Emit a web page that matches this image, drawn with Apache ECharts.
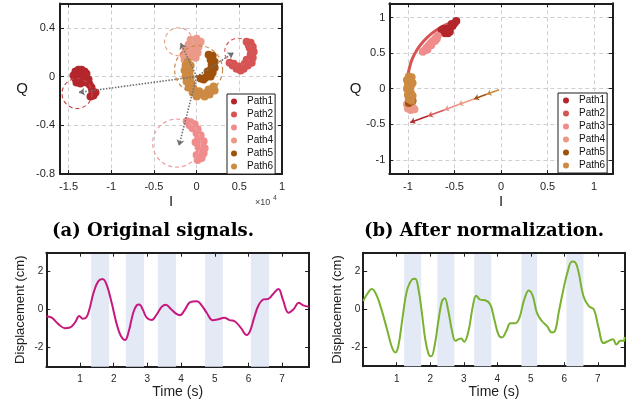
<!DOCTYPE html>
<html><head><meta charset="utf-8">
<script src="https://cdn.jsdelivr.net/npm/echarts@6/dist/echarts.min.js"></script>
<style>html,body{margin:0;padding:0;background:#fff}#c{width:641px;height:409px}</style>
</head><body><div id="c"></div>
<script>
const pathNames = ['Path1','Path2','Path3','Path4','Path5','Path6'];
const pathColors = ['#b3262b','#d65454','#f08c8c','#eb9a88','#a0520c','#cd8a42'];
const circleColors = ['#c84444','#d85c5c','#f0a0a0','#eaa290','#c98a4a'];

// (a) Original signals: I (x10^4), Q
const origPath1 = [[-1.442,0.008],[-1.419,0.041],[-1.383,0.057],[-1.348,0.057],[-1.313,0.041],[-1.290,0.024],[-1.419,-0.016],[-1.383,0.008],[-1.336,0.016],[-1.301,-0.008],[-1.266,-0.024],[-1.383,-0.024],[-1.336,-0.024],[-1.290,-0.049],[-1.254,-0.065],[-1.231,-0.090],[-1.219,-0.122],[-1.208,-0.155],[-1.184,-0.131],[-1.243,-0.163],[-1.360,-0.057],[-1.407,-0.049],[-1.360,0.030],[-1.300,0.010]];
const origPath2 = [[0.586,0.286],[0.633,0.278],[0.657,0.245],[0.621,0.237],[0.668,0.204],[0.633,0.180],[0.657,0.155],[0.621,0.122],[0.645,0.114],[0.598,0.090],[0.551,0.065],[0.516,0.049],[0.469,0.065],[0.422,0.090],[0.387,0.114],[0.434,0.106],[0.563,0.106],[0.586,0.139],[0.492,0.082],[0.610,0.260],[0.640,0.210]];
const origPath3 = [[-0.117,-0.367],[-0.070,-0.376],[-0.023,-0.392],[-0.047,-0.424],[0.012,-0.433],[0.000,-0.465],[0.047,-0.482],[0.035,-0.514],[0.082,-0.531],[0.059,-0.563],[0.094,-0.588],[0.047,-0.612],[0.082,-0.629],[0.035,-0.653],[0.059,-0.669],[0.012,-0.686],[0.000,-0.645],[0.023,-0.580],[-0.012,-0.539],[-0.082,-0.400],[0.020,-0.500],[0.070,-0.600]];
const origPath4 = [[-0.070,0.302],[0.000,0.310],[0.047,0.286],[0.023,0.245],[-0.035,0.261],[-0.094,0.261],[-0.129,0.220],[-0.152,0.180],[-0.094,0.204],[-0.035,0.220],[0.012,0.196],[-0.117,0.155],[-0.059,0.163],[-0.141,0.139],[-0.012,0.155],[-0.050,0.290]];
const origPath5 = [[0.141,0.180],[0.188,0.171],[0.164,0.139],[0.211,0.122],[0.176,0.098],[0.211,0.073],[0.164,0.057],[0.188,0.033],[0.141,0.016],[0.164,0.000],[0.106,-0.008],[0.082,-0.024],[0.129,0.041],[0.047,-0.016],[0.190,0.110]];
const origPath6 = [[-0.106,0.122],[-0.129,0.090],[-0.070,0.090],[-0.141,0.049],[-0.082,0.041],[-0.129,0.000],[-0.070,-0.008],[-0.117,-0.041],[-0.059,-0.057],[-0.094,-0.090],[-0.035,-0.098],[-0.047,-0.131],[0.012,-0.139],[0.000,-0.163],[0.059,-0.147],[0.094,-0.163],[0.117,-0.131],[0.152,-0.147],[0.176,-0.106],[0.211,-0.114],[0.199,-0.082],[0.141,-0.106],[0.030,-0.120]];
const origCircleCenters = [[-1.401,-0.139],[0.487,0.204],[-0.234,-0.547],[-0.211,0.286],[0.023,0.057]];
const origArrowStart = [0,0];
const origArrowEnds = [[-1.38,-0.13],[0.434,0.196],[-0.207,-0.569],[-0.188,0.275]];

// (b) After normalization
const normPath1 = [[-0.62,0.80],[-0.60,0.78],[-0.57,0.78],[-0.55,0.80],[-0.58,0.84],[-0.62,0.84],[-0.55,0.85],[-0.52,0.88],[-0.50,0.92],[-0.48,0.95],[-0.53,0.91],[-0.60,0.82],[-0.64,0.82],[-0.57,0.82]];
const normPath2 = [[-0.45,0.96],[-0.55,0.92],[-0.65,0.86],[-0.74,0.78],[-0.83,0.67],[-0.90,0.55],[-0.95,0.43],[-0.98,0.31],[-1.00,0.19]];
const normPath3 = [[-0.68,0.74],[-0.70,0.71],[-0.72,0.68],[-0.74,0.66],[-0.76,0.63],[-0.78,0.60],[-0.80,0.57],[-0.82,0.54],[-0.84,0.52],[-0.71,0.67],[-0.75,0.61],[-0.79,0.55],[-0.69,0.70]];
const normPath4 = [[-0.99,-0.24],[-0.95,-0.26],[-0.97,-0.30],[-1.01,-0.22],[-0.93,-0.29],[-1.00,-0.28]];
const normPath5 = [[-0.97,-0.18],[-0.99,-0.20],[-0.95,-0.17]];
const normPath6 = [[-0.99,0.17],[-0.96,0.16],[-0.98,0.11],[-1.00,0.06],[-0.97,0.03],[-1.00,-0.02],[-0.97,-0.05],[-1.00,-0.09],[-0.97,-0.11],[-0.99,-0.15],[-0.96,-0.17],[-1.01,0.12],[-1.01,0.00],[-0.95,0.08],[-0.95,-0.10]];
const normSum = [[-0.02,-0.015],[-0.155,-0.08],[-0.29,-0.145],[-0.46,-0.225],[-0.61,-0.30],[-0.785,-0.385],[-0.975,-0.475]];
const normSumPath = [5,4,3,2,1,0]; // path index of each segment

// Displacement signals
const timeA = [0,0.16,0.36,0.55,0.70,0.85,0.98,1.08,1.18,1.28,1.40,1.54,1.67,1.79,1.94,2.09,2.21,2.34,2.44,2.58,2.68,2.76,2.86,2.98,3.13,3.28,3.43,3.55,3.69,3.85,3.97,4.12,4.27,4.47,4.61,4.76,4.94,5.11,5.28,5.44,5.60,5.77,5.95,6.05,6.17,6.30,6.45,6.59,6.72,6.89,7.02,7.19,7.34,7.49,7.63,7.79];
const dispA = [-0.36,-0.42,-0.76,-0.97,-0.94,-0.68,-0.33,-0.47,-0.42,0.02,0.88,1.49,1.61,1.32,0.36,-0.76,-1.37,-1.59,-1.19,-0.16,0.23,0.28,0.02,-0.42,-0.54,-0.24,0.16,0.26,0.05,-0.21,-0.29,0.02,0.40,0.45,0.23,-0.16,-0.55,-0.50,-0.42,-0.55,-0.62,-0.94,-1.33,-1.11,-0.42,0.23,0.54,0.57,0.80,1.09,0.54,-0.16,0.02,0.36,0.23,0.16];
const bandsA = [[1.33,1.86],[2.36,2.90],[3.31,3.85],[4.71,5.24],[6.07,6.61]];
const timeB = [0,0.11,0.26,0.41,0.56,0.71,0.86,0.96,1.05,1.18,1.30,1.45,1.55,1.65,1.75,1.85,1.95,2.03,2.13,2.25,2.35,2.43,2.53,2.65,2.75,2.85,2.92,3.01,3.14,3.27,3.37,3.49,3.64,3.79,3.91,4.04,4.14,4.27,4.39,4.54,4.66,4.79,4.94,5.06,5.18,5.33,5.48,5.63,5.73,5.83,5.96,6.10,6.23,6.33,6.43,6.57,6.73,6.88,7.02,7.17,7.32,7.45,7.55,7.67,7.77,7.80];
const dispB = [0.44,0.79,1.08,0.70,-0.09,-1.05,-2.01,-2.27,-1.92,-0.35,0.96,1.57,1.62,1.05,-0.17,-1.57,-2.36,-2.48,-1.92,-0.52,0.44,0.59,0,-1.14,-1.66,-1.57,-1.54,-1.71,-1.14,0.17,0.73,0.52,0.49,0.26,-0.52,-1.36,-1.48,-1.14,-0.73,-0.73,-0.44,0.44,1.00,0.70,-0.17,-0.61,-0.87,-1.22,-1.10,-0.17,0.96,2.01,2.53,2.48,1.92,0.70,0.17,0,-0.96,-1.78,-1.66,-1.57,-1.85,-1.66,-1.66,-1.45];
const bandsB = [[1.22,1.73],[2.21,2.72],[3.31,3.82],[4.72,5.19],[6.06,6.57]];

const FONT = 'Liberation Sans';
const INK = '#1e1e1e';
function axisPair(dim, gi, min, max, tickVals, labelVals, o) {
  const main = {
    type:'value', gridIndex:gi, min:min, max:max, position: dim==='x'?'bottom':'left',
    axisLine:{show:true, onZero:false, lineStyle:{color:INK, width:2}},
    axisTick:{show:true, inside:true, length:4, customValues:tickVals, lineStyle:{color:INK, width:1}},
    axisLabel:{customValues:labelVals, margin:o.margin, fontSize:o.fs, color:'#262626', fontFamily:FONT},
    splitLine:{show:!!o.grid, lineStyle:{color:'#cfcfcf', width:1, type:[4,3]}},
    name:o.name, nameLocation:'middle', nameGap:o.nameGap,
    nameTextStyle:{fontSize:o.nameSize, color:INK, fontFamily:FONT}
  };
  if (o.nameRotate !== undefined) main.nameRotate = o.nameRotate;
  const mirror = {
    type:'value', gridIndex:gi, min:min, max:max, position: dim==='x'?'top':'right', z:3,
    axisLine:{show:true, onZero:false, lineStyle:{color:INK, width:2}},
    axisTick:{show:true, inside:true, length:4, customValues:tickVals, lineStyle:{color:INK, width:1}},
    axisLabel:{show:false}, splitLine:{show:false}
  };
  return [main, mirror];
}

const grids = [
  {left:60, top:3.5, width:222, height:170.5},
  {left:389.3, top:3.3, width:223.4, height:170.7},
  {left:46.3, top:252.7, width:262.8, height:114},
  {left:363.2, top:252.7, width:261.5, height:113.5}
];
const xAxes = [].concat(
  axisPair('x',0,-1.6,1,[-1.5,-1,-0.5,0,0.5],[-1.5,-1,-0.5,0,0.5,1],{margin:7,fs:11,grid:true,name:'I',nameGap:20,nameSize:15}),
  axisPair('x',1,-1.2,1.2,[-1,-0.5,0,0.5,1],[-1,-0.5,0,0.5,1],{margin:7,fs:11,grid:true,name:'I',nameGap:20,nameSize:15}),
  axisPair('x',2,0,7.8,[1,2,3,4,5,6,7],[1,2,3,4,5,6,7],{margin:8,fs:10,grid:false,name:'Time (s)',nameGap:18,nameSize:14}),
  axisPair('x',3,0,7.8,[1,2,3,4,5,6,7],[1,2,3,4,5,6,7],{margin:8,fs:10,grid:false,name:'Time (s)',nameGap:18,nameSize:14})
);
const yAxes = [].concat(
  axisPair('y',0,-0.8,0.6,[-0.4,0,0.4],[-0.8,-0.4,0,0.4],{margin:5,fs:11,grid:true,name:'Q',nameGap:32,nameSize:15,nameRotate:0}),
  axisPair('y',1,-1.2,1.2,[-1,-0.5,0,0.5,1],[-1,-0.5,0,0.5,1],{margin:4,fs:11,grid:true,name:'Q',nameGap:27,nameSize:15,nameRotate:0}),
  axisPair('y',2,-3,3,[-2,0,2],[-2,0,2],{margin:3,fs:10,grid:false,name:'Displacement (cm)',nameGap:19,nameSize:13}),
  axisPair('y',3,-3,3,[-2,0,2],[-2,0,2],{margin:3,fs:10,grid:false,name:'Displacement (cm)',nameGap:19,nameSize:13})
);

const series = [];
const origPaths = [origPath1,origPath2,origPath3,origPath4,origPath5,origPath6];
origPaths.forEach((d,i)=>series.push({type:'scatter', name:pathNames[i], xAxisIndex:0, yAxisIndex:0, data:d, symbolSize:8, itemStyle:{color:pathColors[i], opacity:1}, z:2, silent:true}));
const circleSizes = [30,27,48,28,48];
series.push({type:'scatter', xAxisIndex:0, yAxisIndex:0, silent:true, z:3,
  data: origCircleCenters.map((c,i)=>({value:c, symbolSize:circleSizes[i], itemStyle:{borderColor:circleColors[i]}})),
  itemStyle:{color:'rgba(0,0,0,0)', opacity:1, borderWidth:1.2, borderType:[4,3]}});
series.push({type:'lines', coordinateSystem:'cartesian2d', xAxisIndex:0, yAxisIndex:0, z:5, silent:true,
  symbol:['none','arrow'], symbolSize:6,
  lineStyle:{color:'#707070', width:1.6, type:[1.5,1.5], opacity:1},
  data: origArrowEnds.map(e=>({coords:[origArrowStart, e]}))});

const normPaths = [normPath1,normPath2,normPath3,normPath4,normPath5,normPath6];
normPaths.forEach((d,i)=>{
  if (i===1) series.push({type:'line', name:pathNames[i], xAxisIndex:2, yAxisIndex:2, data:d, smooth:true, showSymbol:false, lineStyle:{color:pathColors[i], width:3}, itemStyle:{color:pathColors[i]}, z:2, silent:true});
  else series.push({type:'scatter', name:pathNames[i], xAxisIndex:2, yAxisIndex:2, data:d, symbolSize:8, itemStyle:{color:pathColors[i], opacity:1}, z:2, silent:true});
});
series.push({type:'lines', coordinateSystem:'cartesian2d', xAxisIndex:2, yAxisIndex:2, z:5, silent:true,
  symbol:['none','arrow'], symbolSize:5,
  lineStyle:{width:1.6, opacity:1},
  data: normSumPath.map((p,k)=>({coords:[normSum[k], normSum[k+1]], lineStyle:{color:pathColors[p]}}))});

function bandData(b){ return b.map(r=>[{xAxis:r[0]},{xAxis:r[1]}]); }
series.push({type:'line', xAxisIndex:4, yAxisIndex:4, data:timeA.map((t,i)=>[t,dispA[i]]), smooth:0.4, showSymbol:false, silent:true,
  lineStyle:{color:'#c7187f', width:2}, z:3,
  markArea:{silent:true, itemStyle:{color:'#e4eaf5'}, data:bandData(bandsA)}});
series.push({type:'line', xAxisIndex:6, yAxisIndex:6, data:timeB.map((t,i)=>[t,dispB[i]]), smooth:0.4, showSymbol:false, silent:true,
  lineStyle:{color:'#78b230', width:2}, z:3,
  markArea:{silent:true, itemStyle:{color:'#e4eaf5'}, data:bandData(bandsB)}});

const legendBase = {data:pathNames, orient:'vertical', icon:'circle', itemWidth:16, itemHeight:6, itemGap:0,
  borderColor:INK, borderWidth:1, backgroundColor:'#fff', selectedMode:false, z:6,
  itemStyle:{opacity:1},
  textStyle:{fontSize:10, lineHeight:13, color:'#111', fontFamily:FONT}};

const chart = echarts.init(document.getElementById('c'), null, {renderer:'canvas'});
chart.setOption({
  animation:false,
  backgroundColor:'#fff',
  grid: grids.map(g=>Object.assign({containLabel:false}, g)),
  xAxis: xAxes,
  yAxis: yAxes,
  legend: [
    Object.assign({}, legendBase, {left:227, top:94, padding:[1,2,1,4]}),
    Object.assign({}, legendBase, {left:558, top:93, padding:[1,2,1,5]})
  ],
  graphic: [
    {type:'text', x:153, y:231, style:{text:'(a) Original signals.', fontFamily:'DejaVu Serif', fontWeight:'bold', fontSize:18, fill:'#000', align:'center', verticalAlign:'middle'}},
    {type:'text', x:484, y:231, style:{text:'(b) After normalization.', fontFamily:'DejaVu Serif', fontWeight:'bold', fontSize:18, fill:'#000', align:'center', verticalAlign:'middle'}},
    {type:'text', x:255, y:202.5, style:{text:'\u00d710', fontFamily:FONT, fontSize:9, fill:'#444', align:'left', verticalAlign:'middle'}},
    {type:'text', x:273, y:198, style:{text:'4', fontFamily:FONT, fontSize:7, fill:'#444', align:'left', verticalAlign:'middle'}}
  ],
  series: series
});
</script></body></html>
